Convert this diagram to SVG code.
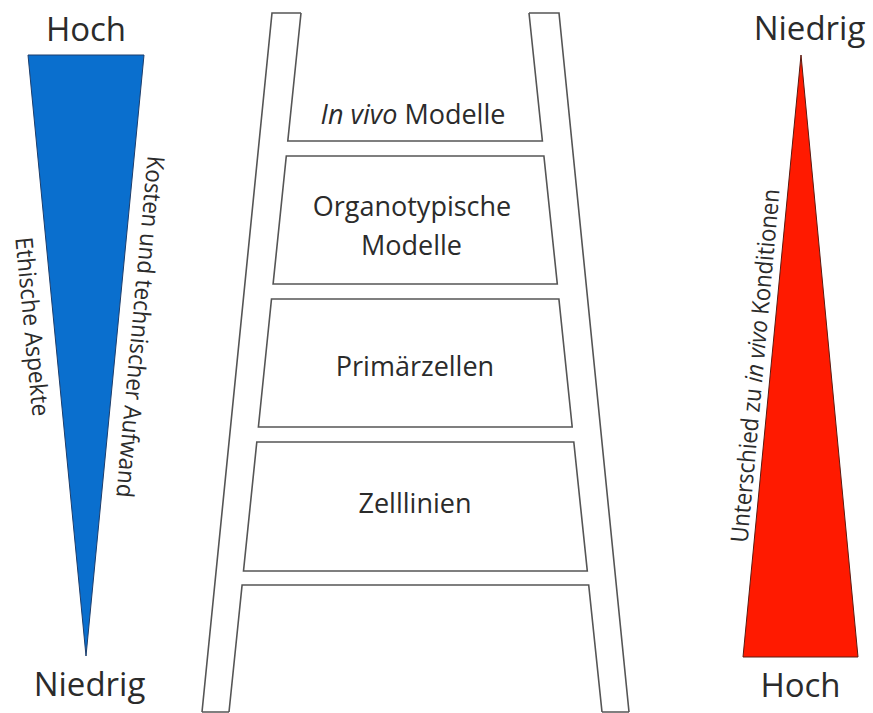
<svg xmlns="http://www.w3.org/2000/svg" width="873" height="713" viewBox="0 0 873 713">
<style>
text{font-family:"Open Sans","Liberation Sans",sans-serif;fill:#2b2b2b}
.lbl{font-size:33px;text-anchor:middle}
.box{font-size:27px;text-anchor:middle}
.rot{font-size:24px;text-anchor:middle}
.ln{fill:none;stroke:#555;stroke-width:1.6;stroke-linejoin:miter}
.it{font-style:italic}
</style>
<rect width="873" height="713" fill="#fff"/>
<g id="left-scale">
<polygon points="28,55 144,55 86,656" fill="#0a6fce" stroke="#1d3d6b" stroke-width="1"/>
<text class="lbl" x="86" y="41">Hoch</text>
<text class="lbl" x="89.5" y="696">Niedrig</text>
<text class="rot" transform="translate(132,326) rotate(95.3)" textLength="343" lengthAdjust="spacingAndGlyphs">Kosten und technischer Aufwand</text>
<text class="rot" transform="translate(24,327.5) rotate(84.5)" textLength="180" lengthAdjust="spacingAndGlyphs">Ethische Aspekte</text>
</g>
<g id="right-scale">
<polygon points="801,55 858,657 743,657" fill="#ff1a00" stroke="#5a1a10" stroke-width="1"/>
<text class="lbl" x="809.5" y="40">Niedrig</text>
<text class="lbl" x="800.5" y="697">Hoch</text>
<text class="rot" transform="translate(763.5,366.5) rotate(-84.8)" textLength="355" lengthAdjust="spacingAndGlyphs">Unterschied zu <tspan class="it">in vivo</tspan> Konditionen</text>
</g>
<g id="ladder-rails">
<path class="ln" d="M202,712 L272,13 L301,13"/>
<path class="ln" d="M529,13 L559,13 L629,712"/>
<path class="ln" d="M202,712 L229,712 M602,712 L629,712"/>
</g>
<g id="rung-invivo">
<path class="ln" d="M301,13 L287.8,141 L542.4,141 L529,13"/>
<text class="box" x="413" y="124"><tspan class="it">In vivo</tspan> Modelle</text>
</g>
<g id="rung-organotypisch">
<polygon class="ln" points="286.3,156 543.9,156 557.3,284 273.1,284"/>
<text class="box" x="412" y="216">Organotypische</text>
<text class="box" x="411.5" y="255">Modelle</text>
</g>
<g id="rung-primaer">
<polygon class="ln" points="271.5,299 558.9,299 572.2,427 258.4,427"/>
<text class="box" x="415" y="376">Primärzellen</text>
</g>
<g id="rung-zelllinien">
<polygon class="ln" points="256.8,442 573.8,442 587.3,571 243.5,571"/>
<text class="box" x="415" y="513">Zelllinien</text>
</g>
<g id="rung-bottom">
<path class="ln" d="M229,712 L242.1,585 L588.7,585 L602,712"/>
</g>
</svg>
